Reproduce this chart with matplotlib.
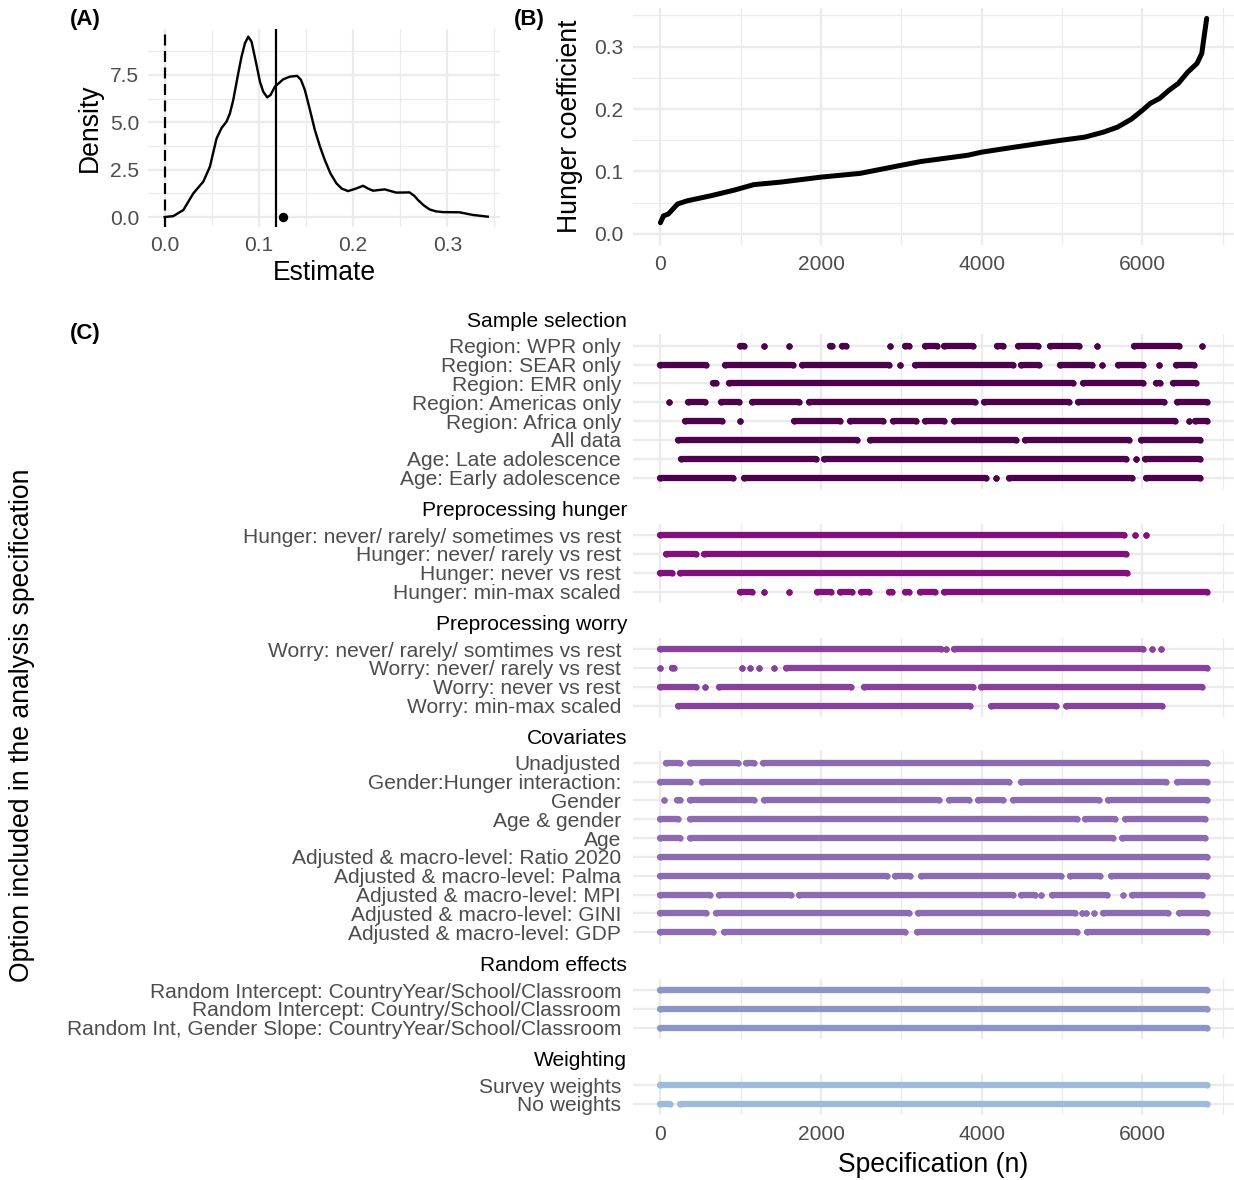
import matplotlib.pyplot as plt
import numpy as np

plt.rcParams['font.family'] = ['Liberation Sans', 'DejaVu Sans']

# ---- data ----
# (A) density of the estimates
dens_x = [0.0, 0.0092, 0.0198, 0.0304, 0.041, 0.048, 0.0551, 0.0604, 0.0657, 0.0693,
          0.0728, 0.0781, 0.0816, 0.0852, 0.0887, 0.0922, 0.0975, 0.1011, 0.1046, 0.1088,
          0.1124, 0.117, 0.1258, 0.1329, 0.1406, 0.1446, 0.1488, 0.1540, 0.1594, 0.1650,
          0.17, 0.1760, 0.1823, 0.1880, 0.1947, 0.2035, 0.2106, 0.2160, 0.2212, 0.2336,
          0.2459, 0.26, 0.2650, 0.2689, 0.2750, 0.2813, 0.2880, 0.2954, 0.3131, 0.3272,
          0.343]
dens_y = [0.0, 0.05, 0.37, 1.25, 1.87, 2.66, 4.15, 4.70, 5.04, 5.48,
          6.18, 7.59, 8.47, 9.17, 9.52, 9.26, 8.03, 7.15, 6.62, 6.32,
          6.44, 6.88, 7.27, 7.41, 7.45, 7.25, 6.71, 5.70, 4.60, 3.70,
          3.01, 2.30, 1.78, 1.50, 1.37, 1.51, 1.65, 1.50, 1.39, 1.46,
          1.29, 1.30, 1.12, 0.90, 0.62, 0.40, 0.30, 0.26, 0.25, 0.11,
          0.02]
median_est = 0.1187
point_est = 0.1261

# (B) sorted hunger coefficients
spec_n = [1, 40, 100, 215, 332, 623, 914, 1165, 1497, 2000, 2487, 3000, 3244, 3826, 4000,
          4409, 4991, 5282, 5515, 5690, 5865, 6000, 6098, 6214, 6331, 6447, 6564, 6680,
          6739, 6768, 6800]
coef = [0.018, 0.029, 0.032, 0.048, 0.053, 0.061, 0.070, 0.079, 0.083, 0.091, 0.097,
        0.110, 0.116, 0.126, 0.131, 0.139, 0.150, 0.155, 0.163, 0.171, 0.184, 0.198,
        0.209, 0.217, 0.230, 0.241, 0.259, 0.273, 0.289, 0.316, 0.345]

# (C) specification ranges (start, end) where each option is included
sample_labels = ["Region: WPR only", "Region: SEAR only", "Region: EMR only",
                 "Region: Americas only", "Region: Africa only", "All data",
                 "Age: Late adolescence", "Age: Early adolescence"]
sample_runs = [
    [(990, 1040), (1286, 1286), (1606, 1606), (2110, 2135), (2260, 2310), (2864, 2864),
     (3040, 3090), (3300, 3440), (3535, 3890), (4195, 4265), (4455, 4705), (4855, 5210),
     (5431, 5431), (5890, 6455), (6736, 6736)],
    [(1, 570), (805, 1650), (1760, 2850), (2982, 2982), (3170, 4385), (4490, 4715),
     (4970, 5370), (5502, 5502), (5700, 6010), (6208, 6208), (6420, 6645)],
    [(660, 695), (850, 5140), (5255, 6010), (6170, 6220), (6385, 6670)],
    [(108, 108), (345, 560), (755, 985), (1145, 1725), (1850, 3915), (4030, 5090),
     (5200, 6270), (6430, 6800)],
    [(305, 765), (989, 989), (1665, 2240), (2355, 2775), (2900, 3185), (3300, 3535),
     (3650, 6400), (6585, 6585), (6650, 6800)],
    [(215, 2445), (2605, 4430), (4540, 5835), (5985, 6715)],
    [(260, 1935), (2040, 5790), (5926, 5926), (6030, 6715)],
    [(1, 900), (1040, 4055), (4183, 4183), (4335, 5870), (6045, 6715)],
]

hunger_labels = ["Hunger: never/ rarely/ sometimes vs rest", "Hunger: never/ rarely vs rest",
                 "Hunger: never vs rest", "Hunger: min-max scaled"]
hunger_runs = [
    [(1, 5775), (5902, 5902), (6043, 6043)],
    [(70, 450), (540, 5795)],
    [(1, 145), (250, 5805)],
    [(990, 1135), (1286, 1286), (1606, 1606), (1955, 2125), (2240, 2380), (2500, 2595),
     (2850, 2880), (3040, 3090), (3230, 3420), (3525, 6800)],
]

worry_labels = ["Worry: never/ rarely/ somtimes vs rest", "Worry: never/ rarely vs rest",
                "Worry: never vs rest", "Worry: min-max scaled"]
worry_runs = [
    [(1, 3490), (3561, 3561), (3660, 6010), (6114, 6114), (6232, 6232)],
    [(1, 1), (140, 170), (1017, 1017), (1112, 1112), (1225, 1225), (1418, 1418), (1570, 6800)],
    [(1, 450), (556, 556), (730, 2370), (2530, 3890), (3995, 6740)],
    [(215, 3855), (4120, 4925), (5055, 6245)],
]

cov_labels = ["Unadjusted", "Gender:Hunger interaction:", "Gender", "Age & gender", "Age",
              "Adjusted & macro-level: Ratio 2020", "Adjusted & macro-level: Palma",
              "Adjusted & macro-level: MPI", "Adjusted & macro-level: GINI",
              "Adjusted & macro-level: GDP"]
cov_runs = [
    [(70, 240), (365, 970), (1070, 1160), (1275, 6800)],
    [(1, 365), (520, 4335), (4490, 6290), (6430, 6800)],
    [(47, 47), (205, 250), (365, 1160), (1290, 3465), (3595, 3845), (3960, 4265),
     (4385, 5455), (5575, 6800)],
    [(1, 215), (365, 5185), (5290, 5665), (5780, 6785)],
    [(1, 240), (365, 5630), (5750, 6785)],
    [(1, 6800)],
    [(1, 2820), (2920, 3110), (3240, 4985), (5100, 5475), (5610, 6800)],
    [(1, 615), (730, 1630), (1730, 4385), (4485, 4660), (4739, 4739), (4870, 5560),
     (5761, 5761), (5865, 6740)],
    [(1, 570), (695, 3090), (3205, 5160), (5243, 5243), (5304, 5304), (5398, 5398),
     (5510, 6315), (6455, 6800)],
    [(1, 660), (790, 3040), (3190, 5185), (5310, 6800)],
]

re_labels = ["Random Intercept: CountryYear/School/Classroom",
             "Random Intercept: Country/School/Classroom",
             "Random Int, Gender Slope: CountryYear/School/Classroom"]
re_runs = [[(1, 6800)], [(1, 6800)], [(1, 6800)]]

wt_labels = ["Survey weights", "No weights"]
wt_runs = [[(1, 6800)], [(1, 120), (245, 6800)]]

facets = [
    ("Sample selection", sample_labels, sample_runs, '#4D004B', 334.4, 489.0),
    ("Preprocessing hunger", hunger_labels, hunger_runs, '#810F7C', 523.7, 603.0),
    ("Preprocessing worry", worry_labels, worry_runs, '#88419D', 637.7, 717.0),
    ("Covariates", cov_labels, cov_runs, '#8C6BB1', 751.4, 943.6),
    ("Random effects", re_labels, re_runs, '#8C96C6', 978.7, 1039.0),
    ("Weighting", wt_labels, wt_runs, '#9EBCDA', 1073.7, 1115.3),
]

# ---- figure ----
W, H = 1234, 1180
PT = 0.72  # pixels -> points at 100 dpi
fig = plt.figure(figsize=(W / 100, H / 100), dpi=100)

GRID = '#EBEBEB'
TICK = '#4D4D4D'


def px_axes(l, t, r, b):
    return fig.add_axes([l / W, 1 - b / H, (r - l) / W, (b - t) / H])


def px_text(x, y, s, **kw):
    fig.text(x / W, 1 - y / H, s, **kw)


def style(ax, pad=12):
    for s in ax.spines.values():
        s.set_visible(False)
    ax.tick_params(which='both', length=0, labelcolor=TICK, labelsize=21 * PT, pad=pad * PT)
    ax.grid(which='major', color=GRID, lw=2.2 * PT)
    ax.grid(which='minor', color=GRID, lw=1.2 * PT)
    ax.set_axisbelow(True)


# (A)
ax_a = px_axes(148.3, 29.3, 500, 226.7)
style(ax_a, pad=9)
ax_a.plot(dens_x, dens_y, color='black', lw=2.4 * PT, solid_joinstyle='round')
ax_a.axvline(0, color='black', lw=2.2 * PT, ls=(0, (5, 2.5)))
ax_a.axvline(median_est, color='black', lw=2.2 * PT)
ax_a.scatter([point_est], [0], s=(8 * PT) ** 2, color='black', zorder=3)
ax_a.set_xlim(-0.0174, 0.356)
ax_a.set_ylim(-0.51, 9.91)
ax_a.set_xticks([0, 0.1, 0.2, 0.3], ["0.0", "0.1", "0.2", "0.3"])
ax_a.set_xticks([0.05, 0.15, 0.25, 0.35], minor=True)
ax_a.set_yticks([0, 2.5, 5, 7.5], ["0.0", "2.5", "5.0", "7.5"])
ax_a.set_yticks([1.25, 3.75, 6.25, 8.75], minor=True)
px_text(324, 273, "Estimate", fontsize=26.5 * PT, ha='center', va='center')
px_text(90, 128, "Density", fontsize=26.5 * PT, ha='center', va='center', rotation=90)

# (B)
ax_b = px_axes(633, 7.8, 1234, 244.6)
style(ax_b, pad=10)
ax_b.plot(spec_n, coef, color='black', lw=5 * PT, solid_capstyle='round',
          solid_joinstyle='round')
ax_b.set_xlim(-340, 7140)
ax_b.set_ylim(-0.017, 0.362)
ax_b.set_xticks([0, 2000, 4000, 6000])
ax_b.set_xticks([1000, 3000, 5000, 7000], minor=True)
ax_b.set_yticks([0, 0.1, 0.2, 0.3], ["0.0", "0.1", "0.2", "0.3"])
ax_b.set_yticks([0.05, 0.15, 0.25, 0.35], minor=True)
px_text(570, 126, "Hunger coefficient", fontsize=26.5 * PT, ha='center', va='center',
        rotation=90)

# (C)
for i, (title, labels, runs, col, top, bot) in enumerate(facets):
    ax = px_axes(633, top, 1234, bot)
    style(ax, pad=10)
    ax.tick_params(axis='y', pad=12 * PT)
    k = len(labels)
    for j, row in enumerate(runs):
        for s, e in row:
            ax.plot([s, e], [j, j], '-o', color=col, lw=6.3 * PT, ms=6.3 * PT,
                    markeredgewidth=0, solid_capstyle='round')
    ax.set_xlim(-340, 7140)
    ax.set_ylim(k - 0.4, -0.6)
    ax.set_yticks(range(k), labels)
    ax.set_xticks([0, 2000, 4000, 6000])
    ax.set_xticks([1000, 3000, 5000, 7000], minor=True)
    if i < len(facets) - 1:
        ax.tick_params(axis='x', labelbottom=False)
    px_text(627, top - 13, title, fontsize=21 * PT, ha='right', va='center', color='black')

px_text(933, 1165, "Specification (n)", fontsize=26.5 * PT, ha='center', va='center')
px_text(22, 725, "Option included in the analysis specification", fontsize=26.5 * PT,
        ha='center', va='center', rotation=90)

px_text(70, 20, "(A)", fontsize=16, fontweight='bold', ha='left', va='center')
px_text(514, 20, "(B)", fontsize=16, fontweight='bold', ha='left', va='center')
px_text(70, 333, "(C)", fontsize=16, fontweight='bold', ha='left', va='center')

fig.savefig("out.png", dpi=100)
